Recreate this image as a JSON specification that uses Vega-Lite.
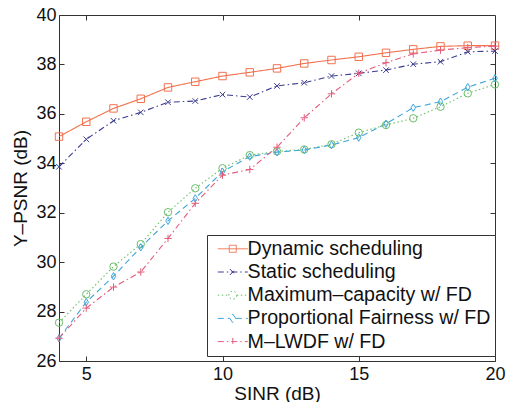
{
  "$schema": "https://vega.github.io/schema/vega-lite/v6.json",
  "width": 436,
  "height": 346,
  "autosize": {"type": "none"},
  "padding": {"left": 59, "top": 15, "right": 11, "bottom": 41},
  "config": {
    "font": "Liberation Sans",
    "view": {"stroke": "#333", "strokeWidth": 1},
    "axis": {"domain": false, "grid": false, "tickColor": "#333", "labelColor": "#111", "titleColor": "#111"}
  },
  "data": {
    "values": [
      {"x": 4, "y": 35.08, "s": "Dynamic scheduling"},
      {"x": 5, "y": 35.68, "s": "Dynamic scheduling"},
      {"x": 6, "y": 36.22, "s": "Dynamic scheduling"},
      {"x": 7, "y": 36.61, "s": "Dynamic scheduling"},
      {"x": 8, "y": 37.07, "s": "Dynamic scheduling"},
      {"x": 9, "y": 37.3, "s": "Dynamic scheduling"},
      {"x": 10, "y": 37.53, "s": "Dynamic scheduling"},
      {"x": 11, "y": 37.68, "s": "Dynamic scheduling"},
      {"x": 12, "y": 37.84, "s": "Dynamic scheduling"},
      {"x": 13, "y": 38.04, "s": "Dynamic scheduling"},
      {"x": 14, "y": 38.18, "s": "Dynamic scheduling"},
      {"x": 15, "y": 38.31, "s": "Dynamic scheduling"},
      {"x": 16, "y": 38.47, "s": "Dynamic scheduling"},
      {"x": 17, "y": 38.61, "s": "Dynamic scheduling"},
      {"x": 18, "y": 38.73, "s": "Dynamic scheduling"},
      {"x": 19, "y": 38.76, "s": "Dynamic scheduling"},
      {"x": 20, "y": 38.76, "s": "Dynamic scheduling"},
      {"x": 4, "y": 33.86, "s": "Static scheduling"},
      {"x": 5, "y": 34.97, "s": "Static scheduling"},
      {"x": 6, "y": 35.72, "s": "Static scheduling"},
      {"x": 7, "y": 36.06, "s": "Static scheduling"},
      {"x": 8, "y": 36.47, "s": "Static scheduling"},
      {"x": 9, "y": 36.52, "s": "Static scheduling"},
      {"x": 10, "y": 36.78, "s": "Static scheduling"},
      {"x": 11, "y": 36.68, "s": "Static scheduling"},
      {"x": 12, "y": 37.13, "s": "Static scheduling"},
      {"x": 13, "y": 37.26, "s": "Static scheduling"},
      {"x": 14, "y": 37.53, "s": "Static scheduling"},
      {"x": 15, "y": 37.64, "s": "Static scheduling"},
      {"x": 16, "y": 37.77, "s": "Static scheduling"},
      {"x": 17, "y": 38.01, "s": "Static scheduling"},
      {"x": 18, "y": 38.11, "s": "Static scheduling"},
      {"x": 19, "y": 38.51, "s": "Static scheduling"},
      {"x": 20, "y": 38.54, "s": "Static scheduling"},
      {"x": 4, "y": 27.55, "s": "Maximum–capacity w/ FD"},
      {"x": 5, "y": 28.7, "s": "Maximum–capacity w/ FD"},
      {"x": 6, "y": 29.82, "s": "Maximum–capacity w/ FD"},
      {"x": 7, "y": 30.73, "s": "Maximum–capacity w/ FD"},
      {"x": 8, "y": 32.02, "s": "Maximum–capacity w/ FD"},
      {"x": 9, "y": 32.99, "s": "Maximum–capacity w/ FD"},
      {"x": 10, "y": 33.8, "s": "Maximum–capacity w/ FD"},
      {"x": 11, "y": 34.33, "s": "Maximum–capacity w/ FD"},
      {"x": 12, "y": 34.48, "s": "Maximum–capacity w/ FD"},
      {"x": 13, "y": 34.56, "s": "Maximum–capacity w/ FD"},
      {"x": 14, "y": 34.77, "s": "Maximum–capacity w/ FD"},
      {"x": 15, "y": 35.24, "s": "Maximum–capacity w/ FD"},
      {"x": 16, "y": 35.55, "s": "Maximum–capacity w/ FD"},
      {"x": 17, "y": 35.82, "s": "Maximum–capacity w/ FD"},
      {"x": 18, "y": 36.29, "s": "Maximum–capacity w/ FD"},
      {"x": 19, "y": 36.83, "s": "Maximum–capacity w/ FD"},
      {"x": 20, "y": 37.19, "s": "Maximum–capacity w/ FD"},
      {"x": 4, "y": 26.92, "s": "Proportional Fairness w/ FD"},
      {"x": 5, "y": 28.38, "s": "Proportional Fairness w/ FD"},
      {"x": 6, "y": 29.43, "s": "Proportional Fairness w/ FD"},
      {"x": 7, "y": 30.6, "s": "Proportional Fairness w/ FD"},
      {"x": 8, "y": 31.67, "s": "Proportional Fairness w/ FD"},
      {"x": 9, "y": 32.58, "s": "Proportional Fairness w/ FD"},
      {"x": 10, "y": 33.66, "s": "Proportional Fairness w/ FD"},
      {"x": 11, "y": 34.27, "s": "Proportional Fairness w/ FD"},
      {"x": 12, "y": 34.45, "s": "Proportional Fairness w/ FD"},
      {"x": 13, "y": 34.54, "s": "Proportional Fairness w/ FD"},
      {"x": 14, "y": 34.74, "s": "Proportional Fairness w/ FD"},
      {"x": 15, "y": 35.04, "s": "Proportional Fairness w/ FD"},
      {"x": 16, "y": 35.6, "s": "Proportional Fairness w/ FD"},
      {"x": 17, "y": 36.25, "s": "Proportional Fairness w/ FD"},
      {"x": 18, "y": 36.49, "s": "Proportional Fairness w/ FD"},
      {"x": 19, "y": 37.08, "s": "Proportional Fairness w/ FD"},
      {"x": 20, "y": 37.44, "s": "Proportional Fairness w/ FD"},
      {"x": 4, "y": 26.92, "s": "M–LWDF w/ FD"},
      {"x": 5, "y": 28.14, "s": "M–LWDF w/ FD"},
      {"x": 6, "y": 28.99, "s": "M–LWDF w/ FD"},
      {"x": 7, "y": 29.6, "s": "M–LWDF w/ FD"},
      {"x": 8, "y": 30.96, "s": "M–LWDF w/ FD"},
      {"x": 9, "y": 32.38, "s": "M–LWDF w/ FD"},
      {"x": 10, "y": 33.52, "s": "M–LWDF w/ FD"},
      {"x": 11, "y": 33.75, "s": "M–LWDF w/ FD"},
      {"x": 12, "y": 34.65, "s": "M–LWDF w/ FD"},
      {"x": 13, "y": 35.84, "s": "M–LWDF w/ FD"},
      {"x": 14, "y": 36.81, "s": "M–LWDF w/ FD"},
      {"x": 15, "y": 37.64, "s": "M–LWDF w/ FD"},
      {"x": 16, "y": 38.07, "s": "M–LWDF w/ FD"},
      {"x": 17, "y": 38.43, "s": "M–LWDF w/ FD"},
      {"x": 18, "y": 38.58, "s": "M–LWDF w/ FD"},
      {"x": 19, "y": 38.68, "s": "M–LWDF w/ FD"},
      {"x": 20, "y": 38.74, "s": "M–LWDF w/ FD"}
    ]
  },
  "layer": [
    {
      "mark": {"type": "line", "strokeWidth": 1.1},
      "encoding": {
        "x": {
          "field": "x", "type": "quantitative",
          "scale": {"domain": [4, 20], "nice": false, "zero": false},
          "axis": {"orient": "bottom", "values": [5, 10, 15, 20], "tickSize": -5, "labelPadding": 9, "labelFontSize": 18, "labelFlush": false, "title": "SINR (dB)", "titleFontSize": 19, "titleFontWeight": "normal", "titlePadding": 1}
        },
        "y": {
          "field": "y", "type": "quantitative",
          "scale": {"domain": [26, 40], "nice": false, "zero": false},
          "axis": {"orient": "left", "values": [26, 28, 30, 32, 34, 36, 38, 40], "tickSize": -5, "labelPadding": 8, "labelFontSize": 18, "labelFlush": false, "title": "Y–PSNR (dB)", "titleFontSize": 19, "titleFontWeight": "normal", "titlePadding": 5}
        },
        "color": {
          "field": "s", "type": "nominal", "legend": null,
          "scale": {"domain": ["Dynamic scheduling", "Static scheduling", "Maximum–capacity w/ FD", "Proportional Fairness w/ FD", "M–LWDF w/ FD"], "range": ["#f0724f", "#3c3c90", "#6cbd6a", "#3ea6dc", "#e45c7c"]}
        },
        "strokeDash": {
          "field": "s", "type": "nominal", "legend": null,
          "scale": {"domain": ["Dynamic scheduling", "Static scheduling", "Maximum–capacity w/ FD", "Proportional Fairness w/ FD", "M–LWDF w/ FD"], "range": [[1, 0], [6, 3, 1.5, 3], [1.5, 2.5], [6, 4], [6, 3, 1.5, 3]]}
        }
      }
    },
    {
      "mark": {"type": "point", "filled": false, "strokeWidth": 1, "size": 55, "opacity": 1},
      "encoding": {
        "x": {
          "field": "x", "type": "quantitative",
          "axis": {"orient": "top", "values": [5, 10, 15], "tickSize": -5, "labels": false, "title": null}
        },
        "y": {
          "field": "y", "type": "quantitative",
          "axis": {"orient": "right", "values": [28, 30, 32, 34, 36, 38], "tickSize": -5, "labels": false, "title": null}
        },
        "color": {
          "field": "s", "type": "nominal", "legend": null,
          "scale": {"domain": ["Dynamic scheduling", "Static scheduling", "Maximum–capacity w/ FD", "Proportional Fairness w/ FD", "M–LWDF w/ FD"], "range": ["#f0724f", "#3c3c90", "#6cbd6a", "#3ea6dc", "#e45c7c"]}
        },
        "shape": {
          "field": "s", "type": "nominal", "legend": null,
          "scale": {"domain": ["Dynamic scheduling", "Static scheduling", "Maximum–capacity w/ FD", "Proportional Fairness w/ FD", "M–LWDF w/ FD"], "range": ["square", "M-0.75,-0.75L0.75,0.75M-0.75,0.75L0.75,-0.75", "circle", "M0,-1L0.6,0L0,1L-0.6,0Z", "M-1,0L1,0M0,-1L0,1"]}
        }
      }
    },
    {
      "mark": {"type": "point", "filled": false, "strokeWidth": 1, "opacity": 0},
      "encoding": {
        "x": {"field": "x", "type": "quantitative", "axis": null},
        "y": {"field": "y", "type": "quantitative", "axis": null},
        "color": {
          "field": "s", "type": "nominal", "title": null,
          "legend": {"orient": "none", "legendX": 148, "legendY": 220, "strokeColor": "#333", "fillColor": "white", "padding": 4, "labelFontSize": 19.6, "labelColor": "#111", "labelLimit": 400, "labelOffset": 17, "symbolSize": 100, "symbolStrokeWidth": 1, "symbolOpacity": 1, "symbolFillColor": "transparent", "rowPadding": 2.2},
          "scale": {"domain": ["Dynamic scheduling", "Static scheduling", "Maximum–capacity w/ FD", "Proportional Fairness w/ FD", "M–LWDF w/ FD"], "range": ["#f0724f", "#3c3c90", "#6cbd6a", "#3ea6dc", "#e45c7c"]}
        },
        "strokeDash": {
          "field": "s", "type": "nominal", "title": null,
          "legend": {"orient": "none", "legendX": 148, "legendY": 220, "strokeColor": "#333", "fillColor": "white", "padding": 4, "labelFontSize": 19.6, "labelColor": "#111", "labelLimit": 400, "labelOffset": 17, "symbolSize": 100, "symbolStrokeWidth": 1, "symbolOpacity": 1, "symbolFillColor": "transparent", "rowPadding": 2.2},
          "scale": {"domain": ["Dynamic scheduling", "Static scheduling", "Maximum–capacity w/ FD", "Proportional Fairness w/ FD", "M–LWDF w/ FD"], "range": [[1, 0], [6, 3, 1.5, 3], [1.5, 2.5], [6, 4], [6, 3, 1.5, 3]]}
        },
        "shape": {
          "field": "s", "type": "nominal", "title": null,
          "legend": {"orient": "none", "legendX": 148, "legendY": 220, "strokeColor": "#333", "fillColor": "white", "padding": 4, "labelFontSize": 19.6, "labelColor": "#111", "labelLimit": 400, "labelOffset": 17, "symbolSize": 100, "symbolStrokeWidth": 1, "symbolOpacity": 1, "symbolFillColor": "transparent", "rowPadding": 2.2},
          "scale": {"domain": ["Dynamic scheduling", "Static scheduling", "Maximum–capacity w/ FD", "Proportional Fairness w/ FD", "M–LWDF w/ FD"], "range": ["M-0.6,0L5.4,0M1.7,-0.7L3.1,-0.7L3.1,0.7L1.7,0.7Z", "M-0.6,0L5.4,0M1.8,-0.6L3,0.6M1.8,0.6L3,-0.6", "M-0.6,0L1.6,0M3.2,0L5.4,0M3.2,0A0.8,0.8,0,1,1,1.6,0A0.8,0.8,0,1,1,3.2,0", "M-0.6,0L1.8,0M3,0L5.4,0M2.4,-0.85L3,0L2.4,0.85L1.8,0Z", "M-0.6,0L5.4,0M2.4,-0.75L2.4,0.75"]}
        }
      }
    }
  ],
  "resolve": {
    "scale": {"color": "independent", "shape": "independent", "strokeDash": "independent"},
    "axis": {"x": "independent", "y": "independent"}
  }
}
